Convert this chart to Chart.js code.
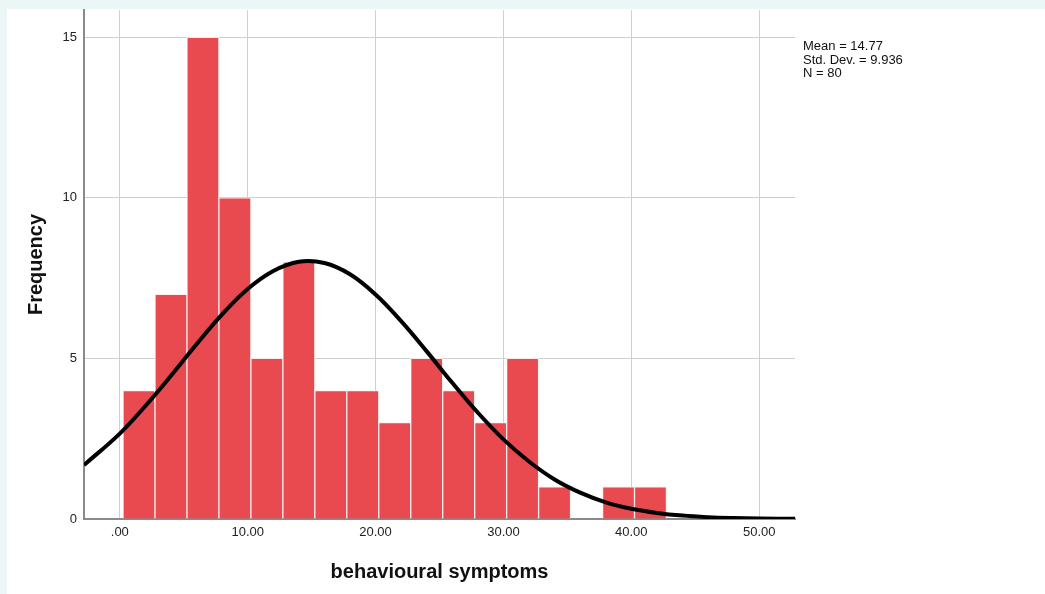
<!DOCTYPE html>
<html>
<head>
<meta charset="utf-8">
<script src="https://cdn.jsdelivr.net/npm/chart.js@4/dist/chart.umd.min.js"></script>
<style>
  html, body { margin: 0; padding: 0; background: #edf6f6; width: 1045px; height: 594px; overflow: hidden; }
  #panel { position: absolute; left: 7px; top: 9px; width: 1038px; height: 585px; background: #ffffff; }
  #wrap { position: absolute; left: 0; top: 0; width: 1038px; height: 585px; }
  #stats { position: absolute; left: 796px; top: 30px; font-family: "Liberation Sans", Arial, sans-serif; font-size: 13px; line-height: 13.5px; color: #111; white-space: pre; }
</style>
</head>
<body>
<div id="panel">
  <div id="wrap"><canvas id="c"></canvas></div>
  <div id="stats">Mean = 14.77
Std. Dev. = 9.936
N = 80</div>
</div>
<script>
// Histogram bins (centres of 2.5-wide bins) and frequencies
const binCenters = [1.5, 4.0, 6.5, 9.0, 11.5, 14.0, 16.5, 19.0, 21.5, 24.0, 26.5, 29.0, 31.5, 34.0, 36.5, 39.0, 41.5];
const frequencies = [4, 7, 15, 10, 5, 8, 4, 4, 3, 5, 4, 3, 5, 1, 0, 1, 1];

// Normal curve points
const curveX = [-2.8, 0, 2, 4, 6, 8, 10, 12, 14, 16, 18, 20, 22, 24, 26, 28, 30, 32, 34, 36, 38, 40, 42, 44, 46, 48, 50, 52.8];
const curveY = [1.68, 2.66, 3.52, 4.46, 5.44, 6.37, 7.16, 7.72, 8.01, 7.97, 7.62, 6.99, 6.16, 5.22, 4.24, 3.31, 2.48, 1.79, 1.23, 0.82, 0.52, 0.32, 0.19, 0.106, 0.057, 0.03, 0.015, 0.005];

// Tick labels
const xTicks = [0, 10, 20, 30, 40, 50];
const xTickLabels = ['.00', '10.00', '20.00', '30.00', '40.00', '50.00'];
const yTicks = [0, 5, 10, 15];

const xTitle = 'behavioural symptoms';
const yTitle = 'Frequency';

const barData = binCenters.map((x, i) => ({ x: x, y: frequencies[i] }));
const lineData = curveX.map((x, i) => ({ x: x, y: curveY[i] }));

const tickFont = { family: '"Liberation Sans", Arial, sans-serif', size: 13 };
const titleFont = { family: '"Liberation Sans", Arial, sans-serif', size: 20, weight: 'bold' };

function noPad(s) { s.paddingTop = 0; s.paddingBottom = 0; s.paddingLeft = 0; s.paddingRight = 0; }

new Chart(document.getElementById('c'), {
  type: 'bar',
  data: {
    datasets: [
      {
        type: 'line',
        data: lineData,
        borderColor: '#000000',
        borderWidth: 4,
        pointRadius: 0,
        tension: 0.4,
        fill: false,
        order: 0
      },
      {
        type: 'bar',
        data: barData,
        backgroundColor: '#e84a4f',
        borderColor: 'rgba(255,235,235,0.9)',
        borderWidth: 1,
        barPercentage: 1.0,
        categoryPercentage: 1.0,
        order: 1
      }
    ]
  },
  options: {
    responsive: true,
    maintainAspectRatio: false,
    animation: false,
    events: [],
    layout: { padding: { left: 0, top: 1, right: 250, bottom: 0 } },
    plugins: { legend: { display: false }, tooltip: { enabled: false } },
    scales: {
      x: {
        type: 'linear',
        min: -2.8,
        max: 52.8,
        offset: false,
        afterBuildTicks: (s) => { s.ticks = xTicks.map(v => ({ value: v })); },
        afterFit: (s) => { s.height = 75; noPad(s); },
        ticks: {
          font: tickFont,
          color: '#222',
          padding: 6,
          maxRotation: 0,
          autoSkip: false,
          callback: (v) => { const i = xTicks.indexOf(v); return i >= 0 ? xTickLabels[i] : ''; }
        },
        grid: { color: '#cfcfcf', lineWidth: 1, drawTicks: false, offset: false },
        border: { color: '#8a8a8a', width: 2 },
        title: { display: true, text: xTitle, font: titleFont, color: '#111', padding: { top: 0, bottom: 10 } }
      },
      y: {
        type: 'linear',
        min: 0,
        max: 15.85,
        afterBuildTicks: (s) => { s.ticks = yTicks.map(v => ({ value: v })); },
        afterFit: (s) => { s.width = 77; noPad(s); },
        ticks: { font: tickFont, color: '#222', padding: 7 },
        grid: { color: '#cfcfcf', lineWidth: 1, drawTicks: false },
        border: { color: '#8a8a8a', width: 2 },
        title: { display: true, text: yTitle, font: titleFont, color: '#111', padding: { top: 17, bottom: 0 } }
      }
    }
  }
});
</script>
</body>
</html>
